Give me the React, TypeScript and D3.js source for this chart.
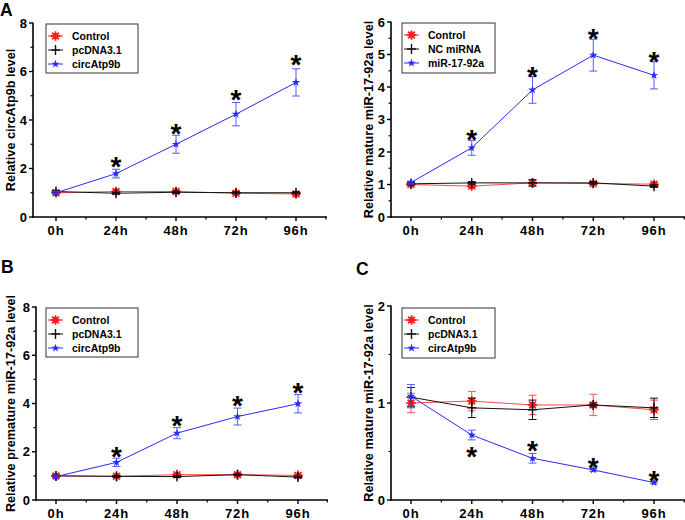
import React from "react";
import * as d3 from "d3";

const hours = [0, 24, 48, 72, 96];
const hourLabels = ["0h", "24h", "48h", "72h", "96h"];

// Panel A
const aControl = [1.0, 1.05, 1.05, 0.98, 0.95];
const aControlErr = [0.05, 0.05, 0.05, 0.04, 0.05];
const aPcdna = [1.05, 0.98, 1.02, 1.0, 1.0];
const aPcdnaErr = [0.05, 0.04, 0.05, 0.04, 0.04];
const aCirc = [1.0, 1.79, 3.0, 4.24, 5.55];
const aCircErr = [0.05, 0.18, 0.37, 0.48, 0.56];
const aStars = [null, 2.35, 3.71, 5.11, 6.52];

// Panel top-right
const rControl = [1.0, 0.95, 1.05, 1.03, 1.01];
const rControlErr = [0.04, 0.04, 0.06, 0.04, 0.04];
const rNc = [1.02, 1.05, 1.05, 1.05, 0.95];
const rNcErr = [0.04, 0.04, 0.1, 0.04, 0.04];
const rMir = [1.06, 2.13, 3.91, 4.98, 4.36];
const rMirErr = [0.04, 0.23, 0.41, 0.49, 0.42];
const rStars = [null, 2.58, 4.52, 5.69, 4.98];

// Panel B
const bControl = [1.0, 0.98, 1.05, 1.05, 1.02];
const bControlErr = [0.05, 0.04, 0.05, 0.05, 0.05];
const bPcdna = [1.0, 0.98, 0.97, 1.05, 0.95];
const bPcdnaErr = [0.04, 0.04, 0.04, 0.04, 0.04];
const bCirc = [0.97, 1.56, 2.77, 3.46, 3.99];
const bCircErr = [0.04, 0.17, 0.23, 0.35, 0.38];
const bStars = [null, 2.05, 3.32, 4.15, 4.7];

// Panel C
const cControl = [1.0, 1.02, 0.98, 0.98, 0.93];
const cControlErr = [0.1, 0.1, 0.1, 0.11, 0.1];
const cPcdna = [1.06, 0.95, 0.93, 0.98, 0.95];
const cPcdnaErr = [0.1, 0.1, 0.1, 0.02, 0.1];
const cCirc = [1.07, 0.67, 0.43, 0.31, 0.18];
const cCircErr = [0.12, 0.05, 0.05, 0.015, 0.012];
const cStars = [null, 0.51, 0.57, 0.395, 0.26];

const RED = "#ff1a1a";
const RED_ERR = "#ff5050";
const BLACK = "#111";
const BLUE = "#2a2aff";
const BLUE_ERR = "#5a5aff";
const FONT = "Arial, 'Liberation Sans', sans-serif";

type Series = { name: string; kind: "ctrl" | "plus" | "star"; values: number[]; err: number[]; color: string; errColor: string };

function Marker({ kind, x, y }: { kind: string; x: number; y: number }) {
  if (kind === "ctrl") {
    const arms = d3.range(8).map((i) => (i * Math.PI) / 4);
    return (
      <g>
        {arms.map((a, i) => (
          <line key={i} x1={x} y1={y} x2={x + 4.8 * Math.cos(a)} y2={y + 4.8 * Math.sin(a)} stroke={RED} strokeWidth={1.7} />
        ))}
        <circle cx={x} cy={y} r={3} fill={RED} />
      </g>
    );
  }
  if (kind === "plus") {
    return (
      <g stroke={BLACK} strokeWidth={1.4}>
        <line x1={x - 4.5} x2={x + 4.5} y1={y} y2={y} />
        <line x1={x} x2={x} y1={y - 5} y2={y + 5} />
      </g>
    );
  }
  const p = d3.symbol().type(d3.symbolStar).size(22)();
  return <path d={p || ""} transform={`translate(${x},${y})`} fill={BLUE} />;
}

type PanelProps = {
  yMax: number;
  yMajor: number;
  yMinor: number;
  yBottom: number;
  yTop: number;
  x0: number;
  x96: number;
  axisLeft: number;
  axisRight: number;
  title: string;
  titleX: number;
  legend: { x: number; y: number; w: number; h: number };
  series: Series[];
  stars: (number | null)[];
  tickLabelY: number;
};

function Panel(p: PanelProps) {
  const x = d3.scaleLinear().domain([0, 96]).range([p.x0, p.x96]);
  const y = d3.scaleLinear().domain([0, p.yMax]).range([p.yBottom, p.yTop]);
  const majors = d3.range(0, p.yMax + 1e-9, p.yMajor);
  const minors = d3.range(p.yMinor, p.yMax, p.yMajor);
  const xMinor = [12, 36, 60, 84, 108].filter((h) => x(h) <= p.axisRight + 0.5);
  const line = d3
    .line<number>()
    .x((_, i) => x(hours[i]))
    .y((v) => y(v));
  const order = [0, 1, 2];
  return (
    <g fontFamily={FONT}>
      {/* axes */}
      <line x1={p.axisLeft} x2={p.axisLeft} y1={p.yTop - 0.5} y2={p.yBottom + 0.8} stroke="#000" strokeWidth={1.6} />
      <line x1={p.axisLeft - 0.8} x2={p.axisRight} y1={p.yBottom} y2={p.yBottom} stroke="#000" strokeWidth={1.6} />
      {majors.map((v) => (
        <g key={"ym" + v}>
          <line x1={p.axisLeft - 4} x2={p.axisLeft} y1={y(v)} y2={y(v)} stroke="#000" strokeWidth={1.4} />
          <text x={p.axisLeft - 6} y={y(v) + 4.5} textAnchor="end" fontSize={13} fontWeight="bold">
            {String(v)}
          </text>
        </g>
      ))}
      {minors.map((v) => (
        <line key={"yn" + v} x1={p.axisLeft - 2.5} x2={p.axisLeft} y1={y(v)} y2={y(v)} stroke="#000" strokeWidth={1.2} />
      ))}
      {hours.map((h, i) => (
        <g key={"xm" + h}>
          <line x1={x(h)} x2={x(h)} y1={p.yBottom} y2={p.yBottom + 4} stroke="#000" strokeWidth={1.4} />
          <text x={x(h)} y={p.tickLabelY} textAnchor="middle" fontSize={13} fontWeight="bold" letterSpacing={0.8}>
            {hourLabels[i]}
          </text>
        </g>
      ))}
      {xMinor.map((h) => (
        <line key={"xn" + h} x1={Math.min(x(h), p.axisRight - 0.7)} x2={Math.min(x(h), p.axisRight - 0.7)} y1={p.yBottom} y2={p.yBottom + 2.5} stroke="#000" strokeWidth={1.2} />
      ))}
      <text
        transform={`translate(${p.titleX},${(p.yTop + p.yBottom) / 2}) rotate(-90)`}
        textAnchor="middle"
        dominantBaseline="central"
        fontSize={12.7}
        fontWeight="bold"
      >
        {p.title}
      </text>
      {/* series */}
      {order.map((si) => {
        const s = p.series[si];
        return (
          <g key={s.name}>
            <path d={line(s.values) || ""} fill="none" stroke={s.color} strokeWidth={1} opacity={si === 0 ? 0.8 : 1} />
            {s.values.map((v, i) => {
              const cx = x(hours[i]);
              const e = s.err[i];
              return (
                <g key={i} stroke={s.errColor} strokeWidth={1}>
                  <line x1={cx} x2={cx} y1={y(v + e)} y2={y(v - e)} />
                  <line x1={cx - 4} x2={cx + 4} y1={y(v + e)} y2={y(v + e)} />
                  <line x1={cx - 4} x2={cx + 4} y1={y(v - e)} y2={y(v - e)} />
                </g>
              );
            })}
            {s.values.map((v, i) => (
              <Marker key={"m" + i} kind={s.kind} x={x(hours[i])} y={y(v)} />
            ))}
          </g>
        );
      })}
      {/* significance stars */}
      {p.stars.map((v, i) =>
        v === null ? null : (
          <text key={"s" + i} x={x(hours[i])} y={y(v) + 15.5} textAnchor="middle" fontSize={28} fontWeight="bold" fill="#000">
            *
          </text>
        )
      )}
      {/* legend */}
      <rect x={p.legend.x} y={p.legend.y} width={p.legend.w} height={p.legend.h} fill="#fff" stroke="#333" strokeWidth={1} />
      {p.series.map((s, i) => {
        const ly = p.legend.y + 12 + i * 14;
        const lx = p.legend.x + 2;
        return (
          <g key={"l" + i}>
            <line x1={lx} x2={lx + 15} y1={ly} y2={ly} stroke={s.color} strokeWidth={1} />
            <Marker kind={s.kind} x={lx + 7.5} y={ly} />
            <text x={lx + 24} y={ly + 3.8} fontSize={10.5} fontWeight="bold">
              {s.name}
            </text>
          </g>
        );
      })}
    </g>
  );
}

function mk(names: string[], vals: number[][], errs: number[][]): Series[] {
  return [
    { name: names[0], kind: "ctrl", values: vals[0], err: errs[0], color: RED, errColor: RED_ERR },
    { name: names[1], kind: "plus", values: vals[1], err: errs[1], color: BLACK, errColor: BLACK },
    { name: names[2], kind: "star", values: vals[2], err: errs[2], color: BLUE, errColor: BLUE_ERR },
  ];
}

export default function App() {
  const namesA = ["Control", "pcDNA3.1", "circAtp9b"];
  const namesR = ["Control", "NC miRNA", "miR-17-92a"];
  return (
    <svg width={685} height={520} style={{ position: "absolute", left: 0, top: 0, background: "#fff" }}>
      <rect width={685} height={520} fill="#fff" />
      <g fontFamily={FONT} fontWeight="bold" fontSize={17.5}>
        <text x={0} y={16}>A</text>
        <text x={1} y={273}>B</text>
        <text x={356} y={275}>C</text>
      </g>
      <Panel
        yMax={8} yMajor={2} yMinor={1} yBottom={217} yTop={23}
        x0={56} x96={296} axisLeft={33} axisRight={327}
        title="Relative circAtp9b level" titleX={11}
        legend={{ x: 46, y: 24, w: 92, h: 49 }}
        series={mk(namesA, [aControl, aPcdna, aCirc], [aControlErr, aPcdnaErr, aCircErr])}
        stars={aStars} tickLabelY={235}
      />
      <Panel
        yMax={6} yMajor={1} yMinor={0.5} yBottom={217} yTop={22}
        x0={411} x96={654} axisLeft={391} axisRight={685}
        title="Relative mature miR-17-92a level" titleX={369}
        legend={{ x: 402, y: 23, w: 93, h: 50 }}
        series={mk(namesR, [rControl, rNc, rMir], [rControlErr, rNcErr, rMirErr])}
        stars={rStars} tickLabelY={235}
      />
      <Panel
        yMax={8} yMajor={2} yMinor={1} yBottom={500} yTop={307}
        x0={56} x96={298} axisLeft={36} axisRight={328}
        title="Relative premature miR-17-92a level" titleX={11}
        legend={{ x: 46, y: 308, w: 92, h: 49 }}
        series={mk(namesA, [bControl, bPcdna, bCirc], [bControlErr, bPcdnaErr, bCircErr])}
        stars={bStars} tickLabelY={518}
      />
      <Panel
        yMax={2} yMajor={1} yMinor={0.5} yBottom={500} yTop={306}
        x0={411} x96={654} axisLeft={391} axisRight={685}
        title="Relative mature miR-17-92a level" titleX={369}
        legend={{ x: 402, y: 308, w: 93, h: 50 }}
        series={mk(namesA, [cControl, cPcdna, cCirc], [cControlErr, cPcdnaErr, cCircErr])}
        stars={cStars} tickLabelY={518}
      />
    </svg>
  );
}
